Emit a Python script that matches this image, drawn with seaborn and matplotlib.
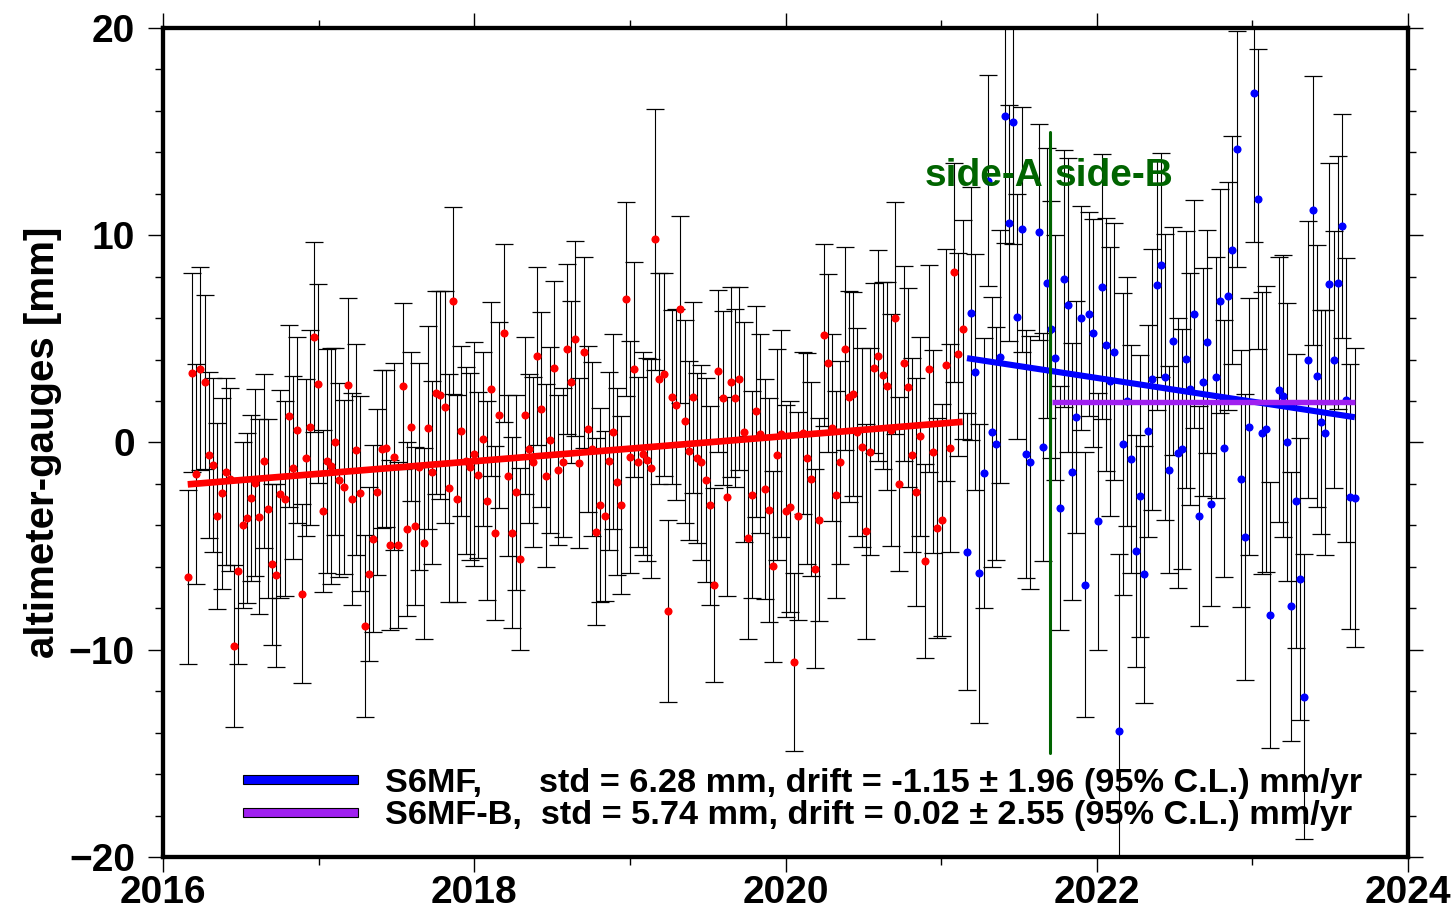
import matplotlib
matplotlib.use("Agg")
import matplotlib.pyplot as plt
import matplotlib.patches as mpatches
from matplotlib.legend_handler import HandlerPatch
from matplotlib.ticker import MultipleLocator, FuncFormatter
import pandas as pd
import seaborn as sns

# Jason-3 reference period (red)
j3_year = [
    2016.159, 2016.186, 2016.213, 2016.240, 2016.267, 2016.294, 2016.321, 2016.348, 2016.376, 2016.403,
    2016.430, 2016.457, 2016.484, 2016.511, 2016.538, 2016.565, 2016.592, 2016.619, 2016.646, 2016.673,
    2016.700, 2016.727, 2016.754, 2016.781, 2016.808, 2016.836, 2016.863, 2016.890, 2016.917, 2016.944,
    2016.971, 2016.998, 2017.025, 2017.052, 2017.079, 2017.106, 2017.133, 2017.160, 2017.187, 2017.214,
    2017.241, 2017.269, 2017.296, 2017.323, 2017.350, 2017.377, 2017.404, 2017.431, 2017.458, 2017.485,
    2017.512, 2017.539, 2017.566, 2017.593, 2017.620, 2017.647, 2017.674, 2017.701, 2017.729, 2017.756,
    2017.783, 2017.810, 2017.837, 2017.864, 2017.891, 2017.918, 2017.945, 2017.972, 2017.999, 2018.026,
    2018.053, 2018.080, 2018.107, 2018.134, 2018.161, 2018.189, 2018.216, 2018.243, 2018.270, 2018.297,
    2018.324, 2018.351, 2018.378, 2018.405, 2018.432, 2018.459, 2018.486, 2018.513, 2018.540, 2018.567,
    2018.594, 2018.622, 2018.649, 2018.676, 2018.703, 2018.730, 2018.757, 2018.784, 2018.811, 2018.838,
    2018.865, 2018.892, 2018.919, 2018.946, 2018.973, 2019.000, 2019.027, 2019.054, 2019.082, 2019.109,
    2019.136, 2019.163, 2019.190, 2019.217, 2019.244, 2019.271, 2019.298, 2019.325, 2019.352, 2019.379,
    2019.406, 2019.433, 2019.460, 2019.487, 2019.514, 2019.542, 2019.569, 2019.596, 2019.623, 2019.650,
    2019.677, 2019.704, 2019.731, 2019.758, 2019.785, 2019.812, 2019.839, 2019.866, 2019.893, 2019.920,
    2019.947, 2019.974, 2020.002, 2020.029, 2020.056, 2020.083, 2020.110, 2020.137, 2020.164, 2020.191,
    2020.218, 2020.245, 2020.272, 2020.299, 2020.326, 2020.353, 2020.380, 2020.407, 2020.435, 2020.462,
    2020.489, 2020.516, 2020.543, 2020.570, 2020.597, 2020.624, 2020.651, 2020.678, 2020.705, 2020.732,
    2020.759, 2020.786, 2020.813, 2020.840, 2020.867, 2020.895, 2020.922, 2020.949, 2020.976, 2021.003,
    2021.030, 2021.057, 2021.084, 2021.111, 2021.138,
]
j3_diff = [
    -6.50, 3.37, -1.52, 3.55, 2.92, -0.62, -1.09, -3.55, -2.45, -1.41,
    -1.78, -9.82, -6.20, -3.98, -3.66, -2.69, -1.94, -3.58, -0.91, -3.19,
    -5.88, -6.41, -2.48, -2.71, 1.28, -1.21, 0.60, -7.29, -0.73, 0.73,
    5.09, 2.84, -3.31, -0.88, -1.13, 0.04, -1.81, -2.16, 2.76, -2.73,
    -0.35, -2.45, -8.87, -6.33, -4.64, -2.37, -0.31, -0.28, -4.93, -0.68,
    -4.93, 2.71, -4.16, 0.76, -4.04, -1.17, -4.87, 0.72, -1.44, 2.40,
    2.29, 1.70, -2.18, 6.84, -2.71, 0.57, -0.88, -1.17, -0.57, -1.58,
    0.17, -2.82, 2.57, -4.38, 1.33, 5.27, -1.60, -4.35, -2.40, -5.62,
    1.31, -0.30, -0.96, 4.17, 1.60, -1.60, 0.12, 3.58, -1.33, -0.96,
    4.50, 2.92, 5.01, -0.99, 4.35, 0.65, -0.33, -4.30, -3.02, -3.55,
    -0.88, 0.52, -1.89, -3.00, 6.92, -0.68, 3.53, -0.96, -0.55, -0.83,
    -1.25, 9.80, 3.08, 3.29, -8.13, 2.21, 1.83, 6.43, 1.02, -0.39,
    2.18, -0.73, -0.96, -1.81, -3.02, -6.88, 3.45, 2.15, -2.61, 2.92,
    2.13, 3.08, 0.51, -4.59, -2.52, 1.50, 0.43, -2.23, -3.24, -5.97,
    -0.59, 0.43, -3.31, -3.10, -10.59, -3.55, 0.45, -0.76, -1.76, -6.09,
    -3.72, 5.20, 3.84, 0.72, -2.52, -0.96, 4.53, 2.21, 2.34, 0.51,
    -0.23, -4.29, -0.44, 3.59, 4.19, 3.24, 2.73, 0.60, 6.01, -2.00,
    3.82, 2.66, -0.60, -2.39, 0.31, -5.72, 3.56, -0.44, -4.14, -3.74,
    3.72, -0.27, 8.21, 4.25, 5.46,
]
j3_err = [
    4.2, 4.8, 5.3, 4.9, 4.2, 4.0, 4.2, 4.5, 4.6, 4.5,
    4.4, 3.9, 4.5, 4.0, 4.1, 4.0, 4.5, 4.7, 4.2, 4.3,
    3.9, 4.4, 5.0, 4.7, 4.4, 4.4, 4.5, 4.3, 3.8, 4.7,
    4.6, 4.8, 3.9, 5.4, 5.7, 4.5, 4.7, 4.2, 4.2, 5.1,
    5.1, 4.7, 4.4, 4.2, 4.5, 4.0, 3.8, 3.8, 4.1, 4.5,
    4.0, 4.0, 4.2, 3.6, 3.8, 5.0, 4.6, 4.9, 4.4, 4.9,
    5.0, 5.6, 5.5, 4.5, 5.0, 4.1, 4.5, 4.5, 5.4, 4.0,
    4.2, 4.8, 4.2, 4.2, 4.5, 4.3, 3.9, 4.6, 4.7, 4.4,
    3.8, 3.6, 4.1, 4.3, 4.7, 4.4, 4.5, 4.2, 3.6, 3.6,
    4.1, 3.9, 4.7, 4.1, 4.6, 4.0, 4.2, 4.5, 4.7, 4.1,
    4.3, 4.7, 4.5, 4.3, 4.7, 5.6, 5.2, 4.1, 4.9, 4.9,
    5.3, 6.3, 5.1, 4.9, 4.4, 4.2, 4.6, 4.5, 4.9, 4.3,
    4.6, 4.1, 4.7, 4.9, 4.8, 4.7, 3.9, 4.2, 4.8, 4.6,
    4.3, 4.4, 5.3, 4.9, 5.0, 5.1, 4.8, 5.3, 5.4, 4.6,
    5.1, 5.0, 5.1, 5.1, 4.3, 5.0, 3.9, 5.1, 4.7, 4.8,
    4.9, 4.4, 4.3, 4.5, 5.0, 4.9, 4.9, 5.1, 4.9, 5.0,
    4.8, 5.2, 5.0, 4.1, 5.1, 4.5, 5.0, 5.6, 5.6, 4.2,
    4.7, 4.8, 4.7, 5.5, 4.8, 4.7, 5.0, 4.9, 5.3, 5.6,
    5.6, 5.0, 5.3, 4.9, 5.3,
]

# Sentinel-6 MF period (blue)
s6_year = [
    2021.166, 2021.192, 2021.220, 2021.245, 2021.274, 2021.299, 2021.327, 2021.355, 2021.380, 2021.409,
    2021.436, 2021.462, 2021.490, 2021.518, 2021.545, 2021.571, 2021.627, 2021.653, 2021.678, 2021.706,
    2021.734, 2021.762, 2021.788, 2021.815, 2021.841, 2021.869, 2021.897, 2021.923, 2021.950, 2021.978,
    2022.006, 2022.032, 2022.060, 2022.087, 2022.113, 2022.141, 2022.169, 2022.194, 2022.222, 2022.250,
    2022.276, 2022.304, 2022.329, 2022.357, 2022.385, 2022.413, 2022.439, 2022.466,
    2022.492, 2022.520, 2022.546, 2022.573, 2022.601, 2022.627, 2022.655, 2022.683, 2022.710, 2022.736,
    2022.764, 2022.792, 2022.818, 2022.845, 2022.871, 2022.899, 2022.927, 2022.955, 2022.980, 2023.009,
    2023.034, 2023.062, 2023.090, 2023.115, 2023.169, 2023.197, 2023.222, 2023.250, 2023.278, 2023.306,
    2023.332, 2023.359, 2023.388, 2023.413, 2023.441, 2023.469, 2023.494, 2023.523, 2023.550, 2023.576,
    2023.604, 2023.629, 2023.658,
]
s6_diff = [
    -5.26, 6.24, 3.40, -6.32, -1.47, 12.64, 0.51, -0.05, 4.13, 15.74,
    10.59, 15.48, 6.07, 10.29, -0.56, -0.95, 10.16, -0.20, 7.69, 5.47,
    4.09, -3.17, 7.90, 6.65, -1.42, 1.22, 6.01, -6.86, 6.20, 5.27,
    -3.80, 7.51, 4.71, 2.95, 4.37, -13.90, -0.07, 1.98, -0.78, -5.24,
    -2.59, -6.36, 0.56, 3.05, 7.58, 8.57, 3.16, -1.32,
    4.89, -0.51, -0.30, 4.02, 2.60, 6.22, -3.55, 2.90, 4.87, -2.97,
    3.14, 6.83, -0.28, 7.06, 9.31, 14.18, -1.75, -4.54, 0.77, 16.86,
    11.74, 0.47, 0.63, -8.32, 2.55, 2.25, 0.02, -7.90, -2.83, -6.59,
    -12.26, 4.00, 11.20, 3.21, 0.98, 0.47, 7.67, 4.00, 7.72, 10.46,
    2.06, -2.62, -2.66,
]
s6_err = [
    6.7, 6.1, 5.7, 7.2, 6.5, 5.1, 6.5, 5.6, 6.1, 6.1,
    5.7, 5.9, 5.9, 5.9, 6.0, 6.1, 5.2, 5.5, 6.5, 6.2,
    5.9, 5.9, 6.2, 7.1, 6.2, 5.6, 5.4, 6.4, 4.9, 5.5,
    6.2, 6.4, 6.1, 6.5, 6.2, 8.5, 7.3, 6.0, 5.5, 5.6,
    6.8, 6.2, 5.1, 6.3, 6.0, 5.4, 6.9, 5.0,
    5.5, 6.5, 5.8, 6.2, 5.6, 5.5, 5.3, 5.5, 5.4, 4.9,
    5.8, 5.4, 6.2, 5.5, 5.5, 5.7, 6.2, 6.9, 6.2, 7.2,
    7.25, 6.8, 6.9, 6.4, 6.4, 6.8, 6.7, 6.5, 7.1, 6.8,
    6.86, 6.7, 6.5, 6.3, 5.4, 5.9, 5.8, 6.2, 6.1, 5.4,
    6.85, 6.4, 7.2,
]

# fitted trend lines, end points
j3_trend_year = [2016.159, 2021.138]
j3_trend_val = [-2.02, 1.00]
s6_trend_year = [2021.166, 2023.658]
s6_trend_val = [4.07, 1.22]
s6b_trend_year = [2021.71, 2023.658]
s6b_trend_val = [1.94, 1.94]

switch_year = 2021.70
switch_span = [-15, 15]

legend_labels = [
    "S6MF,      std = 6.28 mm, drift = -1.15 ± 1.96 (95% C.L.) mm/yr",
    "S6MF-B,  std = 5.74 mm, drift = 0.02 ± 2.55 (95% C.L.) mm/yr",
]

RED = "#ff0000"
BLUE = "#0000ff"
PURPLE = "#a020f0"
DKGREEN = "#006400"

sns.set_style("ticks")
plt.rcParams["font.family"] = ["Liberation Sans", "DejaVu Sans"]
plt.rcParams["font.weight"] = "bold"
plt.rcParams["text.color"] = "black"
plt.rcParams["axes.labelcolor"] = "black"
plt.rcParams["xtick.color"] = "black"
plt.rcParams["ytick.color"] = "black"

fig, ax = plt.subplots(figsize=(14.54, 9.19), dpi=100)
fig.subplots_adjust(left=0.1121, right=0.9684, top=0.9695, bottom=0.0675)

# error bars
for yr, val, err in [(j3_year, j3_diff, j3_err), (s6_year, s6_diff, s6_err)]:
    ax.errorbar(yr, val, yerr=err, fmt="none", ecolor="black",
                elinewidth=0.8, capsize=6.8, capthick=0.9, zorder=2)

# points
j3 = pd.DataFrame({"year": j3_year, "diff": j3_diff})
s6 = pd.DataFrame({"year": s6_year, "diff": s6_diff})
sns.scatterplot(data=j3, x="year", y="diff", color=RED, s=34, linewidth=0,
                ax=ax, zorder=3)
sns.scatterplot(data=s6, x="year", y="diff", color=BLUE, s=34, linewidth=0,
                ax=ax, zorder=3)

# trend lines
sns.lineplot(x=j3_trend_year, y=j3_trend_val, color=RED, lw=4.8,
             solid_capstyle="butt", ax=ax, zorder=4)
sns.lineplot(x=s6_trend_year, y=s6_trend_val, color=BLUE, lw=4.4,
             solid_capstyle="butt", ax=ax, zorder=4)
sns.lineplot(x=s6b_trend_year, y=s6b_trend_val, color=PURPLE, lw=3.9,
             solid_capstyle="butt", ax=ax, zorder=4)

# side-A / side-B switch
ax.plot([switch_year, switch_year], switch_span, color=DKGREEN, lw=2.2, zorder=4)
ax.annotate("side-A", xy=(switch_year, 12.4), xytext=(-5, 0),
            textcoords="offset points", ha="right", va="baseline",
            fontsize=28, fontweight="bold", color=DKGREEN, zorder=6)
ax.annotate("side-B", xy=(switch_year, 12.4), xytext=(3, 0),
            textcoords="offset points", ha="left", va="baseline",
            fontsize=28, fontweight="bold", color=DKGREEN, zorder=6)


def bar_patch(legend, orig_handle, xdescent, ydescent, width, height, fontsize):
    h = 0.27 * fontsize
    return mpatches.Rectangle((-xdescent, -ydescent + (height - h) / 2), width, h)


handles = [mpatches.Patch(facecolor=BLUE, edgecolor="black", lw=0.8),
           mpatches.Patch(facecolor=PURPLE, edgecolor="black", lw=0.8)]
leg = ax.legend(handles, legend_labels, loc="lower left",
                bbox_to_anchor=(0.064, 0.031), frameon=False,
                prop={"size": 24.7, "weight": "bold"},
                handlelength=3.35, handletextpad=0.8, labelspacing=0.05,
                borderpad=0, borderaxespad=0,
                handler_map={mpatches.Patch: HandlerPatch(patch_func=bar_patch)})
leg.set_zorder(6)

# axes styling
ax.set_xlim(2016, 2024)
ax.set_ylim(-20, 20)
ax.xaxis.set_major_locator(MultipleLocator(2))
ax.xaxis.set_minor_locator(MultipleLocator(1))
ax.yaxis.set_major_locator(MultipleLocator(10))
ax.yaxis.set_minor_locator(MultipleLocator(2))
ax.xaxis.set_major_formatter(FuncFormatter(lambda v, p: f"{v:.0f}"))
ax.yaxis.set_major_formatter(FuncFormatter(lambda v, p: f"{v:.0f}".replace("-", "\u2212")))
ax.tick_params(which="both", direction="out", top=True, right=True,
               width=1.0, color="black", labelcolor="black")
ax.tick_params(which="major", length=10.8)
ax.tick_params(which="minor", length=5.8)
ax.tick_params(axis="x", labelsize=28, pad=2.5)
ax.tick_params(axis="y", labelsize=28, pad=9.4)
for sp in ax.spines.values():
    sp.set_linewidth(3.1)
    sp.set_color("black")

ax.set_xlabel("")
ax.set_ylabel("altimeter-gauges [mm]", fontsize=29, fontweight="bold",
              labelpad=5, color="black")

fig.savefig("out.png", dpi=100)
